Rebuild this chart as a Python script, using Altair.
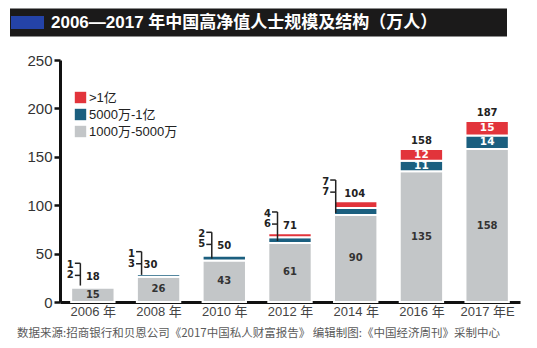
import json
import altair as alt
import pandas as pd

# ---------------- data ----------------
years = ["2006 年", "2008 年", "2010 年", "2012 年", "2014 年", "2016 年", "2017 年E"]
seg_names = [">1亿", "5000万-1亿", "1000万-5000万"]
gray = [15, 26, 43, 61, 90, 135, 158]
teal = [2, 3, 5, 6, 7, 11, 14]
red = [1, 1, 2, 4, 7, 12, 15]
total = [18, 30, 50, 71, 104, 158, 187]

title_text = "2006—2017 年中国高净值人士规模及结构（万人）"
source_text = "数据来源:招商银行和贝恩公司《2017中国私人财富报告》  编辑制图:《中国经济周刊》采制中心"

# ---------------- layout / style ----------------
W, H = 460, 242
STEP = W / 7.0
HALF = 0.33
RED_C, TEAL_C, GRAY_C = "#e2343b", "#1b5f7f", "#c3c6c8"
NUM_FONT = "DejaVu Sans"
CJK = "Liberation Sans, Noto Sans CJK SC"

bracket_idx = [0, 1, 2, 3, 4]
line_off_px = [-12.5, -17, -12.5, -12.5, -20]
total_off_px = [0, -8, 0, 0, -1, 0, 0]


def px(v):
    return v / STEP


# bars
rows = []
for i in range(len(years)):
    g, t, r = gray[i], teal[i], red[i]
    rows.append(dict(seg=seg_names[2], x0=i - HALF, x1=i + HALF, y0=0, y1=g))
    rows.append(dict(seg=seg_names[1], x0=i - HALF, x1=i + HALF, y0=g, y1=g + t))
    rows.append(dict(seg=seg_names[0], x0=i - HALF, x1=i + HALF, y0=g + t, y1=g + t + r))
bars_df = pd.DataFrame(rows)

xscale = alt.Scale(domain=[-0.5, 6.5], nice=False, zero=False)
yscale = alt.Scale(domain=[0, 250], nice=False)

label_expr = json.dumps(years, ensure_ascii=False) + "[datum.value]"

xaxis = alt.Axis(values=list(range(7)), labelExpr=label_expr, title=None, grid=False,
                 ticks=False, domainColor="#111", domainWidth=3, labelFontSize=13,
                 labelColor="#444", labelFont=CJK, labelPadding=3, labelFlush=False,
                 labelOverlap=False)
yaxis = alt.Axis(values=[0, 50, 100, 150, 200, 250], title=None, grid=False,
                 domainColor="#111", domainWidth=3, tickColor="#111", tickWidth=2.5,
                 tickSize=6, labelFontSize=15, labelColor="#333",
                 labelFont="Liberation Sans", labelPadding=2)

bars = alt.Chart(bars_df).mark_bar(stroke="white", strokeWidth=2).encode(
    x=alt.X("x0:Q", scale=xscale, axis=xaxis),
    x2="x1:Q",
    y=alt.Y("y0:Q", scale=yscale, axis=yaxis),
    y2="y1:Q",
    color=alt.Color("seg:N",
                    scale=alt.Scale(domain=seg_names, range=[RED_C, TEAL_C, GRAY_C]),
                    legend=alt.Legend(orient="none", legendX=14, legendY=31, title=None,
                                      symbolType="square", symbolSize=130,
                                      symbolStrokeWidth=0, labelFontSize=13,
                                      labelFont=CJK, labelColor="#222", rowPadding=3,
                                      labelOffset=2, padding=0)),
)

# gray inner labels
gray_df = pd.DataFrame(dict(x=list(range(7)), y=[g / 2 for g in gray], t=[str(g) for g in gray]))
gray_txt = alt.Chart(gray_df).mark_text(font=NUM_FONT, fontWeight="bold", fontSize=10,
                                        color="#333", baseline="middle").encode(
    x=alt.X("x:Q", scale=xscale), y=alt.Y("y:Q", scale=yscale), text="t:N")

# white inner labels for big segments
inner_rows = []
for i in [5, 6]:
    inner_rows.append(dict(x=i, y=gray[i] + teal[i] / 2, t=str(teal[i])))
    inner_rows.append(dict(x=i, y=gray[i] + teal[i] + red[i] / 2, t=str(red[i])))
inner_txt = alt.Chart(pd.DataFrame(inner_rows)).mark_text(
    font=NUM_FONT, fontWeight="bold", fontSize=10.5, color="white", baseline="middle").encode(
    x=alt.X("x:Q", scale=xscale), y=alt.Y("y:Q", scale=yscale), text="t:N")

# totals
tot_df = pd.DataFrame(dict(x=[i + px(total_off_px[i]) for i in range(7)],
                           y=[v + 8 for v in total], t=[str(v) for v in total]))
tot_txt = alt.Chart(tot_df).mark_text(font=NUM_FONT, fontWeight="bold", fontSize=10,
                                      color="#222", baseline="middle").encode(
    x=alt.X("x:Q", scale=xscale), y=alt.Y("y:Q", scale=yscale), text="t:N")

# brackets for small segments
vrows, hrows, lrows = [], [], []
for k, i in enumerate(bracket_idx):
    xl = i + px(line_off_px[k])
    top = total[i] + 22
    up = total[i] + 20
    low = total[i] + 9.5
    vrows.append(dict(x=xl, y=top, y2=gray[i] + 2))
    hrows.append(dict(x=xl - px(5.5), x2=xl, y=top))
    hrows.append(dict(x=xl - px(5.5), x2=xl, y=low))
    lrows.append(dict(x=xl - px(10), y=up, t=str(red[i])))
    lrows.append(dict(x=xl - px(10), y=low, t=str(teal[i])))

vrule = alt.Chart(pd.DataFrame(vrows)).mark_rule(color="#222", strokeWidth=1.5).encode(
    x=alt.X("x:Q", scale=xscale), y=alt.Y("y:Q", scale=yscale), y2="y2:Q")
hrule = alt.Chart(pd.DataFrame(hrows)).mark_rule(color="#222", strokeWidth=1.5).encode(
    x=alt.X("x:Q", scale=xscale), x2="x2:Q", y=alt.Y("y:Q", scale=yscale))
small_txt = alt.Chart(pd.DataFrame(lrows)).mark_text(
    font=NUM_FONT, fontWeight="bold", fontSize=10, color="#222", baseline="middle").encode(
    x=alt.X("x:Q", scale=xscale), y=alt.Y("y:Q", scale=yscale), text="t:N")

# title bar & footer
one = pd.DataFrame(dict(t=[title_text]))
title_bg = alt.Chart(one).mark_rect(color="#1b1a1a").encode(
    x=alt.value(-50), x2=alt.value(447), y=alt.value(-51.5), y2=alt.value(-23.5))
title_blue = alt.Chart(one).mark_rect(color="#2443a8").encode(
    x=alt.value(-49), x2=alt.value(-16), y=alt.value(-44), y2=alt.value(-31))
title_txt = alt.Chart(one).mark_text(font=CJK, fontWeight="bold", fontSize=17, color="white",
                                     align="left", baseline="middle").encode(
    x=alt.value(-9), y=alt.value(-37.5), text="t:N")
foot = alt.Chart(pd.DataFrame(dict(t=[source_text]))).mark_text(
    font="Noto Sans CJK SC, Liberation Sans", fontSize=11.5, color="#5a5a5a",
    align="left", baseline="middle").encode(x=alt.value(-43), y=alt.value(274), text="t:N")

chart = alt.layer(title_bg, title_blue, title_txt, bars, gray_txt, inner_txt, tot_txt,
                  vrule, hrule, small_txt, foot).properties(
    width=W, height=H,
    autosize=alt.AutoSizeParams(type="none"),
    padding={"left": 60, "top": 60, "right": 17, "bottom": 46},
    background="white",
).configure_view(stroke=None)

chart.save("out.html", embed_options={"renderer": "svg", "actions": False})
